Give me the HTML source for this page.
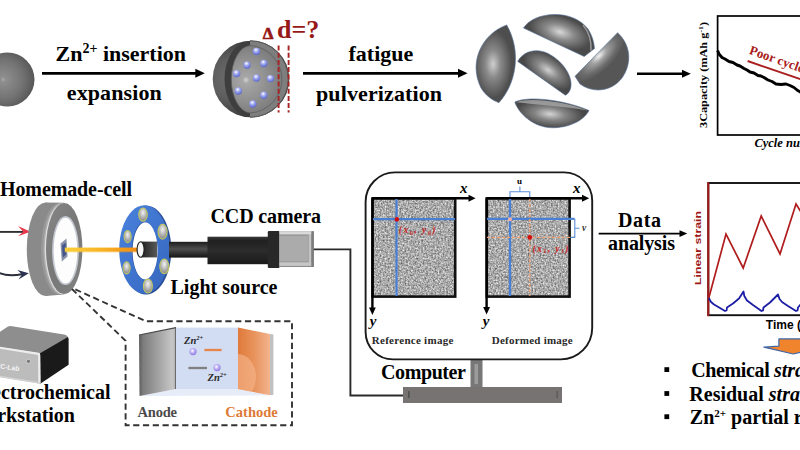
<!DOCTYPE html>
<html>
<head>
<meta charset="utf-8">
<style>
html,body{margin:0;padding:0;background:#fff;}
body{width:800px;height:450px;overflow:hidden;position:relative;font-family:"Liberation Serif",serif;}
svg{position:absolute;left:0;top:0;display:block;}
text{font-family:"Liberation Serif",serif;font-weight:bold;fill:#000;}
.t22{font-size:22px;}
.t20{font-size:20px;}
</style>
</head>
<body>
<svg width="800" height="450" viewBox="0 0 800 450">
<defs>
  <radialGradient id="gSph1" cx="0.42" cy="0.5" r="0.6">
    <stop offset="0" stop-color="#a8a8a8"/>
    <stop offset="0.08" stop-color="#8e8e8e"/>
    <stop offset="0.6" stop-color="#737373"/>
    <stop offset="1" stop-color="#545454"/>
  </radialGradient>
  <radialGradient id="gShell" gradientUnits="userSpaceOnUse" cx="232" cy="79" r="40">
    <stop offset="0" stop-color="#6e6e6e"/>
    <stop offset="0.5" stop-color="#5e5e5e"/>
    <stop offset="1" stop-color="#3c3c3c"/>
  </radialGradient>
  <radialGradient id="gInner" gradientUnits="userSpaceOnUse" cx="246" cy="80" r="40">
    <stop offset="0" stop-color="#d2d2d2"/>
    <stop offset="0.09" stop-color="#a6a6a6"/>
    <stop offset="0.5" stop-color="#919191"/>
    <stop offset="0.85" stop-color="#7e7e7e"/>
    <stop offset="1" stop-color="#6e6e6e"/>
  </radialGradient>
  <radialGradient id="gDot" cx="0.42" cy="0.3" r="0.7">
    <stop offset="0" stop-color="#ffffff"/>
    <stop offset="0.4" stop-color="#a4acf0"/>
    <stop offset="1" stop-color="#5866cc"/>
  </radialGradient>
  <radialGradient id="gFrag" cx="0.5" cy="0.5" r="0.6">
    <stop offset="0" stop-color="#d0d0d0"/>
    <stop offset="0.35" stop-color="#8c8c8c"/>
    <stop offset="1" stop-color="#4c4c4c"/>
  </radialGradient>
  <filter id="speck" x="0" y="0" width="1" height="1" color-interpolation-filters="sRGB">
    <feTurbulence type="fractalNoise" baseFrequency="0.6" numOctaves="2" seed="3" result="n"/>
    <feGaussianBlur stdDeviation="0.45"/>
    <feColorMatrix type="matrix" values="0.8 0 0 0 0.265  0.8 0 0 0 0.265  0.8 0 0 0 0.265  0 0 0 0 1"/>
    <feComposite in2="SourceGraphic" operator="in"/>
  </filter>
  <marker id="ah" markerWidth="10" markerHeight="10" refX="9" refY="5" orient="auto" markerUnits="userSpaceOnUse">
    <path d="M0,0.5 L10,5 L0,9.5 Z" fill="#000"/>
  </marker>

  <radialGradient id="gFragL" gradientUnits="userSpaceOnUse" cx="493" cy="64" r="34" gradientTransform="translate(493 64) scale(0.55 1) translate(-493 -64)">
    <stop offset="0" stop-color="#cfcfcf"/><stop offset="0.4" stop-color="#8a8a8a"/><stop offset="1" stop-color="#4e4e4e"/>
  </radialGradient>
  <radialGradient id="gFragT" gradientUnits="userSpaceOnUse" cx="560" cy="32" r="32" gradientTransform="rotate(18 560 32) translate(560 32) scale(1 0.5) translate(-560 -32)">
    <stop offset="0" stop-color="#d8d8d8"/><stop offset="0.45" stop-color="#8a8a8a"/><stop offset="1" stop-color="#4a4a4a"/>
  </radialGradient>
  <radialGradient id="gFragC" gradientUnits="userSpaceOnUse" cx="548" cy="70" r="28" gradientTransform="rotate(35 548 70) translate(548 70) scale(1 0.5) translate(-548 -70)">
    <stop offset="0" stop-color="#d0d0d0"/><stop offset="0.45" stop-color="#858585"/><stop offset="1" stop-color="#484848"/>
  </radialGradient>
  <radialGradient id="gFragR" gradientUnits="userSpaceOnUse" cx="599" cy="56" r="34" gradientTransform="rotate(-45 599 56) translate(599 56) scale(1 0.42) translate(-599 -56)">
    <stop offset="0" stop-color="#f2f2f2"/><stop offset="0.3" stop-color="#a0a0a0"/><stop offset="0.7" stop-color="#6c6c6c"/><stop offset="1" stop-color="#565656"/>
  </radialGradient>
  <radialGradient id="gFragB" gradientUnits="userSpaceOnUse" cx="550" cy="114" r="34" gradientTransform="rotate(6 550 114) translate(550 114) scale(1 0.4) translate(-550 -114)">
    <stop offset="0" stop-color="#d4d4d4"/><stop offset="0.45" stop-color="#858585"/><stop offset="1" stop-color="#484848"/>
  </radialGradient>

  <linearGradient id="gCellSide" x1="0" y1="0" x2="1" y2="0">
    <stop offset="0" stop-color="#8e8e8e"/><stop offset="0.5" stop-color="#a6a6a6"/><stop offset="1" stop-color="#b4b4b4"/>
  </linearGradient>
  <linearGradient id="gCellSide2" x1="0" y1="0" x2="1" y2="0">
    <stop offset="0" stop-color="#a6a6a6"/><stop offset="0.6" stop-color="#c4c4c4"/><stop offset="1" stop-color="#e8e8e8"/>
  </linearGradient>
  <linearGradient id="gCellFace" x1="0" y1="0" x2="1" y2="1">
    <stop offset="0" stop-color="#868686"/><stop offset="0.5" stop-color="#787878"/><stop offset="1" stop-color="#828282"/>
  </linearGradient>
  <linearGradient id="gBeam" x1="0" y1="0" x2="1" y2="0">
    <stop offset="0" stop-color="#fccf3a"/><stop offset="0.5" stop-color="#f8b324"/><stop offset="1" stop-color="#f08c14"/>
  </linearGradient>
  <linearGradient id="gRing" x1="0" y1="0" x2="1" y2="1">
    <stop offset="0" stop-color="#4a82dc"/><stop offset="0.5" stop-color="#3f74cf"/><stop offset="1" stop-color="#3565bb"/>
  </linearGradient>
  <radialGradient id="gLed" cx="0.5" cy="0.35" r="0.7">
    <stop offset="0" stop-color="#f2f2f2"/><stop offset="0.5" stop-color="#b8b8b8"/><stop offset="1" stop-color="#7a7a7a"/>
  </radialGradient>
  <linearGradient id="gTube" x1="0" y1="0" x2="0" y2="1">
    <stop offset="0" stop-color="#1c1c1c"/><stop offset="0.45" stop-color="#4e4e4e"/><stop offset="1" stop-color="#141414"/>
  </linearGradient>
  <linearGradient id="gTube2" x1="0" y1="0" x2="0" y2="1">
    <stop offset="0" stop-color="#3a3a3a"/><stop offset="0.15" stop-color="#202020"/><stop offset="0.5" stop-color="#2c2c2c"/><stop offset="1" stop-color="#1a1a1a"/>
  </linearGradient>

  <linearGradient id="gAnode" x1="0" y1="0" x2="1" y2="0">
    <stop offset="0" stop-color="#5e5e5e"/><stop offset="0.12" stop-color="#7e7e7e"/><stop offset="0.5" stop-color="#a0a0a0"/><stop offset="0.9" stop-color="#c6c6c6"/><stop offset="1" stop-color="#b0b0b0"/>
  </linearGradient>
  <linearGradient id="gCath" x1="0" y1="0" x2="1" y2="0">
    <stop offset="0" stop-color="#e07a3a"/><stop offset="0.5" stop-color="#e8935c"/><stop offset="1" stop-color="#f2b48e"/>
  </linearGradient>
  <radialGradient id="gIon" cx="0.42" cy="0.38" r="0.7">
    <stop offset="0" stop-color="#ffffff"/><stop offset="0.45" stop-color="#bcaef4"/><stop offset="1" stop-color="#7e6cd8"/>
  </radialGradient>
  <linearGradient id="gTubeIn" x1="0" y1="0" x2="1" y2="0">
    <stop offset="0" stop-color="#1e1e1e"/><stop offset="0.5" stop-color="#3c3c3c"/><stop offset="1" stop-color="#5a5a5a"/>
  </linearGradient>
</defs>

<!-- ===== ROW 1 ===== -->
<g id="row1">
  <!-- sphere 1 -->
  <circle cx="7.5" cy="79.5" r="27" fill="url(#gSph1)"/>
  <!-- arrow 1 -->
  <line x1="42" y1="73.3" x2="197" y2="73.3" stroke="#000" stroke-width="2.8"/>
  <path d="M195.3,68.8 L204.8,73.3 L195.3,77.8 Z" fill="#000"/>
  <text x="55.5" y="61.4" class="t22">Zn<tspan font-size="14" dy="-8">2+</tspan><tspan dy="8"> insertion</tspan></text>
  <text x="66.8" y="100.2" class="t22" textLength="95" lengthAdjust="spacing">expansion</text>

  <!-- sphere 2 -->
  <circle cx="251" cy="79" r="38.3" fill="url(#gShell)"/>
  <path d="M250,41 A25.5,38 0 0 0 250,117 Z" fill="#3e3e3e"/>
  <path d="M250,40.7 A38.3,38.3 0 0 1 250,117.3 Z" fill="#7e7e7e"/>
  <path d="M250,40.7 A38.3,38.3 0 0 1 250,117.3" fill="none" stroke="#555" stroke-width="1"/>
  <path d="M250,45.5 A19.8,33.8 0 0 0 250,113 A33.8,33.8 0 0 0 250,45.5 Z" fill="url(#gInner)" stroke="#5e5e5e" stroke-width="0.8"/>
  <g fill="url(#gDot)">
    <circle cx="256.5" cy="51.4" r="3.7"/><circle cx="247" cy="65" r="3.7"/><circle cx="263.8" cy="63.5" r="3.7"/>
    <circle cx="236.6" cy="73.6" r="3.7"/><circle cx="256.5" cy="78" r="3.7"/><circle cx="270.4" cy="78.6" r="3.7"/>
    <circle cx="238.3" cy="91" r="3.7"/><circle cx="263.8" cy="95.3" r="3.7"/><circle cx="252.8" cy="104" r="3.7"/>
  </g>
  <line x1="278.6" y1="45.5" x2="278.6" y2="112.5" stroke="#a82222" stroke-width="1.9" stroke-dasharray="5 2.2"/>
  <line x1="288.6" y1="45.5" x2="288.6" y2="112.5" stroke="#a82222" stroke-width="1.9" stroke-dasharray="5 2.2"/>
  <text x="262.8" y="38.6" font-size="17" style="fill:#961818;stroke:#961818;stroke-width:0.7">Δ</text>
  <text x="277" y="38.2" font-size="26" style="fill:#961818">d=?</text>

  <!-- arrow 2 -->
  <line x1="303" y1="73.3" x2="460" y2="73.3" stroke="#000" stroke-width="2.8"/>
  <path d="M458,68.8 L467.5,73.3 L458,77.8 Z" fill="#000"/>
  <text x="348.5" y="61" class="t22">fatigue</text>
  <text x="316" y="100.6" class="t22" textLength="126" lengthAdjust="spacing">pulverization</text>


<!-- fragments -->
<g id="frags" stroke="#56709c" stroke-width="0.6">
  <!-- left lens -->
  <path d="M506.7,24.9 C482,34 468,62 481,88 C486,96 492,100 498.9,102.7 C516,84 522,52 506.7,24.9 Z" fill="url(#gFragL)"/>
  <!-- top dome -->
  <path d="M523.5,28 C534,11.5 572,8 588,29 C592,35 594,42 594.5,48.5 L584.2,56.5 Z" fill="url(#gFragT)"/>
  <path d="M583,25 C589,32 591.5,41 591,50.5" fill="none" stroke="#a8a8a8" stroke-width="1.6" opacity="0.8"/>
  <!-- center dome -->
  <path d="M517.7,61.4 C523,51.5 536,47.5 548,53.5 C562,60.5 572,75 571,86 C570.5,91 568,94 565.4,95.2 Z" fill="url(#gFragC)"/>
  <!-- right dome -->
  <path d="M617.6,32.7 C630,44 633,62 622,78 C612,91 594,94 580,84 L575,76.3 Z" fill="url(#gFragR)"/>
  <!-- bottom dome -->
  <path d="M514.8,102 C528,95.5 565,100 589,110.5 C582,124 560,130 545,127 C530,124 518,112 514.8,102 Z" fill="url(#gFragB)"/>
  <path d="M516,102.2 C530,97 565,101.5 587.5,110.4 C565,106.5 535,104.5 516,102.2 Z" fill="#a2a2a2" stroke="none" opacity="0.85"/>
</g>
  <!-- arrow 3 -->
  <line x1="637" y1="73.8" x2="684" y2="73.8" stroke="#000" stroke-width="2.4"/>
  <path d="M682,69.8 L690.8,73.8 L682,77.8 Z" fill="#000"/>
</g>


<!-- ===== chart 1 ===== -->
<g id="chart1">
  <rect x="717.6" y="16" width="100" height="119" fill="#fff" stroke="#000" stroke-width="1.7"/>
  <polyline fill="none" stroke="#000" stroke-width="2.9" stroke-linejoin="round" points="717.6,50.5 719,54 722,57.5 725,59 729,61.5 733,62.5 737,65 740,66 744,68.5 747,70 750,72 754,73 758,75.5 761,76 764,77.5 768,80 772,81.5 776,84 781,84.5 786,84 790,85.5 794,87.5 797,90 801,92.5"/>
  <line x1="747.6" y1="61" x2="802" y2="79.7" stroke="#a82020" stroke-width="1.9"/>
  <text transform="translate(748.5,53.8) rotate(19.5)" font-size="13" style="fill:#a82020">Poor cycle</text>
  <text transform="translate(707.3,128) rotate(-90)" font-size="11" textLength="106" lengthAdjust="spacingAndGlyphs">3Capacity (mAh g<tspan font-size="7" dy="-4">-1</tspan><tspan dy="4">)</tspan></text>
  <text x="754.4" y="147" font-size="12.5" font-style="italic">Cycle number</text>
</g>

<!-- ===== ROW 2 ===== -->
<g id="row2">
  <text x="0" y="195.5" class="t20" textLength="132" lengthAdjust="spacing">Homemade-cell</text>

  <!-- wires -->
  <path d="M-2,231.9 H23" fill="none" stroke="#303030" stroke-width="1.9"/>
  <path d="M30.5,231.7 L18,226 L23.3,231.7 L18,236.2 Z" fill="#e8364a"/>
  <path d="M-2,272.3 C4,275.5 12,276 22,274.3" fill="none" stroke="#2a2e3a" stroke-width="1.9"/>
  <path d="M28.8,273.2 L17.5,270 L22,274.5 L18.5,279.6 Z" fill="#2a3250"/>

  <!-- coin cell -->
  <g id="cell">
    <ellipse cx="45.5" cy="249.3" rx="18.7" ry="46.8" fill="#8a8a8a"/>
    <path d="M45.5,202.5 L64,202.8 L64,294.5 L45.5,296.1 Z" fill="#8a8a8a"/>
    <ellipse cx="59.5" cy="249" rx="18.5" ry="46" fill="#989898"/>
    <ellipse cx="61.8" cy="248.9" rx="18.4" ry="45.8" fill="#b0b0b0"/>
    <ellipse cx="63.1" cy="248.8" rx="18.3" ry="45.6" fill="#dedede"/>
    <ellipse cx="64.2" cy="248.6" rx="18.2" ry="45.5" fill="url(#gCellFace)"/>
    <ellipse cx="65.5" cy="250.6" rx="12.6" ry="33.7" fill="#fdfdfd" stroke="#c4c8d0" stroke-width="1.6"/>
    <path d="M60.5,243.5 L66.5,238.5 L67.5,256.5 L61.8,261.5 Z" fill="#8a92a8"/>
    <path d="M62,245.5 L65.6,242.5 L66.2,254.5 L62.8,257.5 Z" fill="#44558c"/>
  </g>


  <!-- light ring -->
  <g id="ring">
    <path fill-rule="evenodd" fill="#2a4f98" d="M146,205.6 a25.3,44.4 0 1 0 0.01,0 Z M145.4,222.3 a12.8,28.7 0 1 1 -0.01,0 Z"/>
    <path fill-rule="evenodd" fill="url(#gRing)" d="M144.4,205.2 a25.2,44.3 0 1 0 0.01,0 Z M144.8,222 a12.8,28.7 0 1 1 -0.01,0 Z"/>
    <g fill="url(#gLed)" stroke="#c2c860" stroke-width="1.1">
      <ellipse cx="143" cy="214.6" rx="4.3" ry="6.6"/>
      <ellipse cx="162.6" cy="231.7" rx="4.5" ry="7.4"/>
      <ellipse cx="164.3" cy="266.4" rx="4.5" ry="7.4"/>
      <ellipse cx="147.9" cy="286" rx="4.5" ry="7"/>
      <ellipse cx="126.6" cy="267.9" rx="3.5" ry="6"/>
      <ellipse cx="127.6" cy="236.6" rx="3.5" ry="6"/>
    </g>
  </g>

  <!-- beam -->
  <rect x="64.5" y="247" width="73" height="5.4" rx="1" fill="url(#gBeam)" opacity="0.35"/>
  <rect x="65" y="247.9" width="72.5" height="3.7" fill="url(#gBeam)"/>

  <!-- camera -->
  <g id="cam">
    <rect x="140.6" y="241.6" width="16.6" height="15.8" fill="url(#gTubeIn)"/>
    <ellipse cx="140.6" cy="249.5" rx="3.5" ry="7.7" fill="#f6f6f6" stroke="#1c1c1c" stroke-width="1.1"/>
    <rect x="169" y="241.8" width="39" height="15.8" fill="url(#gTube)"/>
    <rect x="207.5" y="236.7" width="61" height="27.5" fill="url(#gTube2)"/>
    <rect x="267.8" y="231" width="11.8" height="37" rx="1.2" fill="#282828"/>
    <rect x="279.4" y="231.3" width="34.4" height="35.7" fill="#8c8c8c"/>
    <rect x="279.4" y="231.3" width="32" height="3.2" fill="#dadada"/>
    <rect x="279.4" y="262.3" width="32" height="3.6" fill="#c6c6c6"/>
    <rect x="279.4" y="235.6" width="28.8" height="26" fill="#ababab"/>
    <rect x="308.6" y="234" width="2.6" height="29.5" fill="#c4c4c4"/>
    <rect x="311.6" y="231.3" width="2.2" height="35.7" fill="#7c7c7c"/>
  </g>
  <text x="210.5" y="223.3" class="t20" textLength="110.5" lengthAdjust="spacing">CCD camera</text>
  <text x="170.5" y="294" class="t20" textLength="107" lengthAdjust="spacing">Light source</text>

  <!-- wire to computer -->
  <path d="M313.8,249.4 H350.4 V395.5 H404" fill="none" stroke="#2a2a2a" stroke-width="1.9"/>
</g>

<!-- ===== workstation ===== -->
<g id="ws">
  <path d="M-1,332.5 L8,326.6 Q9.5,325.8 12,326.2 L64,334.4 Q68,335.2 68,338 L40,353.5 L-1,347 Z" fill="#8e8e8e"/>
  <path d="M40,353.2 L67.5,337.2 Q68.6,337 68.6,339 L68.6,364.8 L40.3,383.8 Z" fill="#1a1a1a"/>
  <path d="M-1,346.8 L40,353.2 L40.3,383.8 L-1,377 Z" fill="#bcbcbc"/>
  <path d="M-1,347.6 L38.6,353.9 Q39.2,354 39.2,355 L39.4,383" fill="none" stroke="#ededed" stroke-width="2.2"/>
  <path d="M-1,376.2 L39.6,383" fill="none" stroke="#d4d4d4" stroke-width="1.4"/>
  <circle cx="28.5" cy="361.3" r="2.1" fill="#7a7a7a" stroke="#d8d8d8" stroke-width="0.8"/>
  <text x="-4.5" y="368.5" font-size="6.8" transform="rotate(8 0 368)" style="fill:#f4f4f4;font-family:'Liberation Sans',sans-serif">EC-Lab</text>
  <text x="110.5" y="399" class="t20" text-anchor="end">Electrochemical</text>
  <text x="75" y="422.2" class="t20" text-anchor="end">workstation</text>
</g>

<!-- ===== dashed callout ===== -->
<g id="callout" fill="none" stroke="#333" stroke-width="1.9" stroke-dasharray="6.2 3.6">
  <path d="M72,289 L125.6,340.8 V425.3 H292 V321.2 H146 L73,288.4"/>
</g>
<g id="electrodes">
  <path d="M139.5,396 L176,389 L238,389 L270,395.3 Z" fill="#e6ecf8"/>
  <rect x="176" y="327.6" width="62" height="61.4" fill="#d2dcf2"/>
  <path d="M139,335 L176,327.6 L176,389 L139.5,396 Z" fill="url(#gAnode)"/>
  <path d="M139,335 L176,327.6" stroke="#4a4a4a" stroke-width="1.2" fill="none"/>
  <path d="M175.5,327.8 V389" stroke="#6a6a6a" stroke-width="1" fill="none"/>
  <path d="M238,327.6 L270,334 L270,395.3 L238,389 Z" fill="url(#gCath)"/>
  <clipPath id="cpC"><path d="M238,327.6 L270,334 L270,395.3 L238,389 Z"/></clipPath>
  <ellipse cx="238" cy="377" rx="18" ry="23" fill="#f6b890" opacity="0.6" clip-path="url(#cpC)"/>
  <path d="M270,334 L273.4,334.6 L273.4,394.8 L270,395.3 Z" fill="#c0c0c0"/>
  <line x1="204.4" y1="350" x2="221.6" y2="350" stroke="#e8854a" stroke-width="2.3"/>
  <line x1="188.4" y1="368" x2="207" y2="368" stroke="#808080" stroke-width="2.3"/>
  <circle cx="193" cy="351.6" r="3.6" fill="url(#gIon)"/>
  <circle cx="217" cy="367.6" r="3.6" fill="url(#gIon)"/>
  <text x="184" y="344" font-size="10.5" font-style="italic" style="fill:#2a2a2a">Zn<tspan font-size="6.5" dy="-4">2+</tspan></text>
  <text x="207.6" y="381" font-size="10.5" font-style="italic" style="fill:#2a2a2a">Zn<tspan font-size="6.5" dy="-4">2+</tspan></text>
  <text x="137.5" y="417" font-size="14.5" style="fill:#4a4a4a" textLength="39.5" lengthAdjust="spacing">Anode</text>
  <text x="225.3" y="417" font-size="14.5" style="fill:#dd7a36" textLength="52.5" lengthAdjust="spacing">Cathode</text>
</g>

<!-- ===== monitor ===== -->
<g id="monitor">
  <rect x="470.5" y="359.5" width="12" height="28" fill="#777"/>
  <rect x="474.5" y="364" width="3.5" height="20" fill="#9c9c9c"/>
  <rect x="403" y="387" width="159" height="16" fill="#777373"/>
  <rect x="408.3" y="391" width="1.2" height="7" fill="#444"/>
  <rect x="556.5" y="391" width="1.2" height="7" fill="#555"/>
  <path d="M395,172.4 H564 A28.2,28.2 0 0 1 592.2,200.6 V328 A31.4,31.4 0 0 1 560.8,359.4 H393 A27.4,27.4 0 0 1 365.6,332 V201.8 A29.4,29.4 0 0 1 395,172.4 Z" fill="#fff" stroke="#1a1a1a" stroke-width="1.9"/>
  <text x="381" y="379" class="t20" textLength="85" lengthAdjust="spacing">Computer</text>

  <!-- speckle 1 -->
  <rect x="372.6" y="198.3" width="82.6" height="98.3" fill="#000" filter="url(#speck)"/>
  <rect x="372.6" y="198.3" width="82.6" height="98.3" fill="none" stroke="#111" stroke-width="2.6"/>
  <!-- speckle 2 -->
  <rect x="486.8" y="198.3" width="82.8" height="98.3" fill="#000" filter="url(#speck)"/>
  <rect x="486.8" y="198.3" width="82.8" height="98.3" fill="none" stroke="#111" stroke-width="2.6"/>

  <!-- axes -->
  <g stroke="#000" stroke-width="2.4" fill="none">
    <path d="M372.6,198.2 H470"/><path d="M372.4,198.2 V308"/>
    <path d="M486.8,198.2 H583"/><path d="M486.6,198.2 V308"/>
  </g>
  <g fill="#000">
    <path d="M475.6,198.2 L468.5,194.7 L468.5,201.7 Z"/>
    <path d="M372.4,315 L369,307.5 L375.8,307.5 Z"/>
    <path d="M589.2,198.2 L582,194.7 L582,201.7 Z"/>
    <path d="M486.6,314.5 L483.2,307 L490,307 Z"/>
  </g>
  <text x="460" y="193" font-size="15" font-style="italic">x</text>
  <text x="573" y="193" font-size="15" font-style="italic">x</text>
  <text x="369.8" y="326.3" font-size="15" font-style="italic">y</text>
  <text x="482.8" y="326.3" font-size="15" font-style="italic">y</text>

  <!-- lines image 1 -->
  <g stroke="#4a80d4" stroke-width="2.2">
    <line x1="396.5" y1="199" x2="396.5" y2="296"/>
    <line x1="373" y1="219.2" x2="455" y2="219.2"/>
  </g>
  <circle cx="396.9" cy="219.4" r="2.3" fill="#d01010"/>
  <text x="398.8" y="233" font-size="9.5" font-style="italic" style="fill:#cc2222" textLength="36.5" lengthAdjust="spacing">(x<tspan font-size="6" dy="1.5">0</tspan><tspan dy="-1.5">,  y</tspan><tspan font-size="6" dy="1.5">0</tspan><tspan dy="-1.5">)</tspan></text>

  <!-- lines image 2 -->
  <g stroke="#4a80d4" stroke-width="2.3">
    <line x1="510" y1="199" x2="510" y2="296"/>
    <line x1="487" y1="218.9" x2="574.5" y2="218.9"/>
  </g>
  <g stroke="#f0a070" stroke-width="1.3" stroke-dasharray="3 2">
    <line x1="529.8" y1="199" x2="529.8" y2="296"/>
    <line x1="487" y1="237.4" x2="574.5" y2="237.4"/>
  </g>
  <circle cx="510" cy="219.2" r="2" fill="#f6b0a0"/>
  <circle cx="529.8" cy="237.4" r="2.4" fill="#d01010"/>
  <text x="532.5" y="251.5" font-size="9.5" font-style="italic" style="fill:#cc2222" textLength="36" lengthAdjust="spacing">(x<tspan font-size="6" dy="1.5">1</tspan><tspan dy="-1.5">,  y</tspan><tspan font-size="6" dy="1.5">1</tspan><tspan dy="-1.5">)</tspan></text>
  <g stroke="#5b8fd8" stroke-width="1.1" fill="none">
    <path d="M510,197 V191.8 H529.8 V197 M519.9,191.8 V186.6"/>
    <path d="M570.5,219.2 H574.8 V237.4 H570.5 M574.8,228.3 H579.5"/>
  </g>
  <text x="517" y="184" font-size="9">u</text>
  <text x="582" y="230.5" font-size="9.5" font-style="italic" style="fill:#333">v</text>

  <text x="371.8" y="343.5" font-size="11" style="fill:#2a2a2a" textLength="81.5" lengthAdjust="spacing">Reference image</text>
  <text x="491.7" y="343.5" font-size="11" style="fill:#2a2a2a" textLength="81" lengthAdjust="spacing">Deformed image</text>
</g>

<!-- ===== data analysis ===== -->
<g id="data">
  <line x1="598.7" y1="233.6" x2="681" y2="233.6" stroke="#000" stroke-width="1.8"/>
  <path d="M687.3,233.6 L679.5,230.3 L679.5,236.9 Z" fill="#000"/>
  <text x="618" y="227" class="t20" textLength="43" lengthAdjust="spacing">Data</text>
  <text x="608" y="250" class="t20" textLength="67" lengthAdjust="spacing">analysis</text>
</g>

<!-- ===== chart 2 ===== -->
<g id="chart2">
  <rect x="708.3" y="183" width="110" height="132.2" fill="#fff" stroke="#111" stroke-width="1.9"/>
  <path d="M708.3,182.2 V316.1" fill="none" stroke="#a01818" stroke-width="2"/>
  <polyline fill="none" stroke="#b01c1c" stroke-width="1.7" stroke-linejoin="miter" points="708.8,298 726,234 743.2,268 761.2,216 780,254 796,204 801,212"/>
  <polyline fill="none" stroke="#1c1ea4" stroke-width="1.8" stroke-linejoin="round" points="708.8,298 711,302 714,304.5 720,308 725,311 726.6,310.5 727,307.5 733,303.5 739,298.5 743.5,291.5 744.3,296 747,300.5 753,305 761.5,311 763,310.5 763.5,307.5 770,302.5 778,294.5 779.5,299 782,302 788,306 796,311 797.5,310.5 798,307.5 801,304"/>
  <text transform="translate(701,285) rotate(-90)" font-size="9.5" style="fill:#a01818;font-family:'Liberation Sans',sans-serif" textLength="74" lengthAdjust="spacingAndGlyphs">Linear strain</text>
  <text x="765.8" y="328.9" font-size="12" style="font-family:'Liberation Sans',sans-serif">Time (s)</text>
</g>

<!-- ===== orange arrow ===== -->
<g id="oarrow">
  <path d="M778.9,338.9 H808 V346.6 H823 L793.3,354 L763.9,347.2 L778.9,346.2 Z" fill="#f0842c" stroke="#3f66a8" stroke-width="1.2" stroke-linejoin="round"/>
</g>

<!-- ===== bullets ===== -->
<g id="bullets">
  <rect x="664.4" y="367.2" width="4.8" height="4.8" fill="#000"/>
  <rect x="664.4" y="391.1" width="4.8" height="4.8" fill="#000"/>
  <rect x="664.4" y="414.3" width="4.8" height="4.8" fill="#000"/>
  <text x="691.3" y="377.2" class="t20"><tspan textLength="83" lengthAdjust="spacing">Chemical </tspan><tspan font-style="italic">strain</tspan></text>
  <text x="689.3" y="400.9" class="t20"><tspan textLength="79.5" lengthAdjust="spacing">Residual </tspan><tspan font-style="italic">strain</tspan></text>
  <text x="689.8" y="424" class="t20">Zn<tspan font-size="11" dy="-7">2+</tspan><tspan dy="7"> partial reversibility</tspan></text>
</g>
</svg>
</body>
</html>
